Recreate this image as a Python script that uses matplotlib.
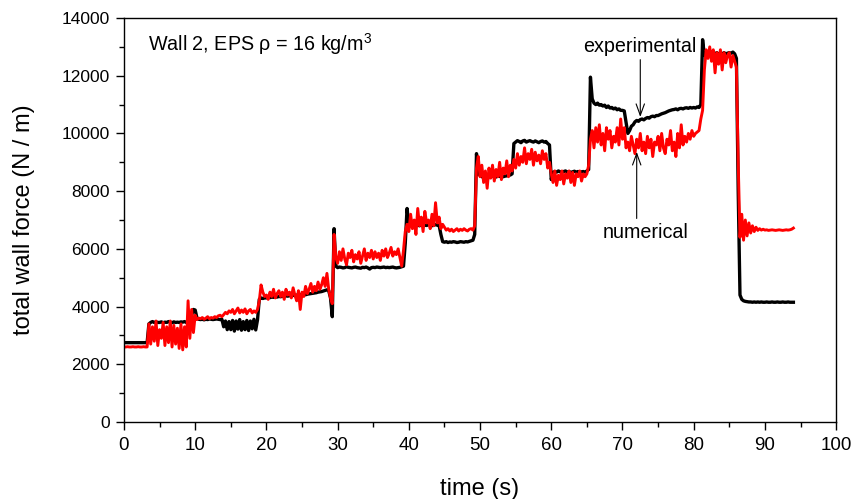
import numpy as np
import matplotlib
matplotlib.use("Agg")
import matplotlib.pyplot as plt
from matplotlib.ticker import MultipleLocator

plt.rcParams['font.family'] = ['Liberation Sans', 'DejaVu Sans']
plt.rcParams['mathtext.fontset'] = 'custom'
plt.rcParams['mathtext.rm'] = 'Liberation Sans'
plt.rcParams['mathtext.it'] = 'Liberation Sans:italic'
plt.rcParams['mathtext.bf'] = 'Liberation Sans:bold'

# sampling grid of the recorded signals (s)
time = np.arange(0, 94.01, 0.25)

# experimental wall force (N/m), one row per 5 s
experimental = [
    2750, 2750, 2750, 2750, 2750, 2750, 2750, 2750, 2750, 2750, 2750, 2750, 2750, 2750, 3400, 3450, 3480, 3450, 3470, 3450,
    3450, 3470, 3440, 3460, 3450, 3480, 3460, 3440, 3470, 3450, 3460, 3450, 3470, 3460, 3480, 3450, 3500, 3520, 3700, 3900,
    3880, 3600, 3560, 3550, 3560, 3540, 3560, 3550, 3570, 3560, 3550, 3560, 3570, 3560, 3550, 3560, 3300, 3500, 3200, 3480,
    3200, 3520, 3150, 3500, 3220, 3550, 3180, 3480, 3200, 3520, 3170, 3500, 3230, 3560, 3190, 3540, 4250, 4300, 4280, 4300,
    4300, 4320, 4310, 4330, 4320, 4340, 4330, 4350, 4340, 4360, 4350, 4370, 4360, 4380, 4370, 4390, 4380, 4400, 4390, 4410,
    4400, 4420, 4410, 4430, 4440, 4450, 4460, 4470, 4480, 4500, 4510, 4520, 4540, 4560, 4580, 4550, 4300, 3650, 6700, 5400,
    5350, 5370, 5360, 5340, 5350, 5380, 5360, 5350, 5340, 5360, 5370, 5350, 5340, 5330, 5360, 5350, 5370, 5340, 5300, 5350,
    5360, 5350, 5370, 5360, 5350, 5360, 5370, 5350, 5360, 5350, 5360, 5370, 5350, 5340, 5350, 5360, 5380, 5400, 6200, 7400,
    6850, 6800, 6830, 6810, 6840, 6820, 6800, 6830, 6850, 6820, 6810, 6840, 6830, 6800, 6820, 6840, 6820, 6810, 6500, 6250,
    6230, 6250, 6220, 6240, 6230, 6250, 6240, 6220, 6230, 6250, 6240, 6230, 6250, 6240, 6260, 6280, 6300, 6500, 9300, 8600,
    8550, 8500, 8480, 8520, 8500, 8470, 8510, 8530, 8500, 8490, 8520, 8510, 8540, 8500, 8520, 8530, 8550, 8560, 8600, 9650,
    9700, 9750, 9720, 9680, 9740, 9760, 9700, 9730, 9750, 9720, 9700, 9740, 9710, 9680, 9720, 9740, 9700, 9720, 9650, 9600,
    8400, 8650, 8680, 8660, 8700, 8670, 8650, 8680, 8700, 8660, 8680, 8650, 8670, 8690, 8660, 8680, 8650, 8670, 8680, 8660,
    8700, 8750, 11950, 11200, 11050, 11000, 11050, 10980, 11000, 10950, 10980, 10900, 10950, 10880, 10900, 10850, 10880, 10820, 10850, 10800,
    10800, 10780, 10400, 10000, 10100, 10250, 10300, 10400, 10450, 10420, 10480, 10500, 10470, 10520, 10550, 10530, 10580, 10600, 10580, 10620,
    10620, 10650, 10680, 10700, 10720, 10750, 10780, 10800, 10820, 10830, 10850, 10820, 10860, 10870, 10850, 10880, 10890, 10870, 10900, 10880,
    10900, 10880, 10920, 10900, 11000, 13250, 12700, 12750, 12720, 12780, 12750, 12700, 12760, 12800, 12740, 12780, 12750, 12800, 12760, 12780,
    12800, 12780, 12820, 12760, 12600, 8000, 4400, 4250, 4200, 4180, 4170, 4160, 4160, 4150, 4160, 4150, 4160, 4150, 4160, 4150,
    4150, 4160, 4150, 4150, 4160, 4150, 4150, 4160, 4150, 4150, 4160, 4150, 4150, 4160, 4150, 4150, 4150,
]

# numerical wall force (N/m), one row per 5 s
numerical = [
    2600, 2600, 2610, 2600, 2600, 2610, 2600, 2600, 2610, 2600, 2600, 2610, 2600, 2600, 3400, 2700, 3300, 2800, 3500, 2650,
    3200, 2900, 3450, 2650, 3300, 2750, 3500, 2600, 3350, 2700, 3250, 2550, 3400, 2500, 3300, 2600, 4200, 2900, 3900, 3100,
    3700, 3550, 3600, 3580, 3620, 3560, 3600, 3650, 3580, 3620, 3600, 3650, 3620, 3680, 3700, 3650, 3720, 3800, 3750, 3850,
    3800, 3900, 3750, 3850, 3950, 3780, 3880, 3800, 3920, 3750, 3850, 3900, 3780, 3850, 3800, 3900, 4200, 4750, 4500, 4350,
    4400, 4250, 4500, 4350, 4600, 4300, 4450, 4550, 4350, 4500, 4250, 4600, 4400, 4500, 4300, 4650, 4400, 4200, 4550, 3900,
    4500, 4350, 4700, 4450, 4600, 4800, 4500, 4700, 4550, 4850, 4600, 4750, 5000, 4700, 5150, 4600, 4300, 4100, 6500, 5700,
    5500, 5900, 5600, 6000, 5650, 5450, 5850, 5700, 5950, 5550, 5800, 5650, 5900, 5500, 5750, 6000, 5600, 5850, 5700, 5950,
    5650, 5900, 5700, 5850, 5600, 5950, 5750, 6000, 5700, 5850, 6050, 5750, 5900, 5800, 6000, 5700, 5400, 5950, 6600, 6850,
    6600, 7200, 6700, 7000, 6500, 7400, 6800, 7100, 6600, 7300, 6900, 7000, 6700, 7200, 6800, 7600, 6900, 7100, 6700, 6850,
    6750, 6650, 6700, 6620, 6680, 6600, 6650, 6700, 6620, 6680, 6640, 6700, 6650, 6620, 6680, 6700, 6650, 6800, 8800, 9200,
    8500, 8900, 8300, 8700, 8100, 8800, 8450, 8900, 8350, 8750, 8500, 9000, 8400, 8800, 8600, 9050, 8500, 8900, 8700, 9100,
    8800, 9300, 8900, 9200, 9000, 9500, 8950, 9300, 9100, 9450, 8900, 9350, 9050, 9250, 8950, 9400, 9100, 9300, 8800, 9000,
    8600, 8300, 8700, 8200, 8550, 8400, 8700, 8250, 8600, 8450, 8700, 8300, 8650, 8200, 8600, 8500, 8700, 8350, 8600, 8500,
    8600, 8900, 9800, 10100, 9500, 10200, 9700, 10300, 9600, 10000, 9400, 10200, 9800, 10100, 9500, 9900, 9700, 10200, 9600, 10500,
    9800, 10200, 9500, 9700, 9400, 9900, 9600, 9300, 9800, 9500, 10000, 9400, 9700, 9300, 9900, 9500, 9800, 9200, 9700, 9600,
    9900, 9400, 10000, 9500, 9300, 9800, 9600, 10100, 9400, 9700, 9200, 10000, 9500, 10300, 9600, 9900, 9700, 10000, 9800, 10100,
    9900, 10000, 10050, 10100, 10500, 10800, 12200, 12900, 12600, 13000, 12500, 12900, 12100, 12800, 12400, 12900, 12200, 12800, 12450, 12700,
    12800, 12300, 12700, 12500, 12300, 9000, 6400, 7200, 6300, 7000, 6450, 6900, 6550, 6800, 6600, 6750, 6640, 6700, 6650, 6680,
    6650, 6660, 6640, 6650, 6660, 6650, 6640, 6650, 6660, 6650, 6640, 6650, 6660, 6650, 6660, 6680, 6720,
]

x_ticks = [0, 10, 20, 30, 40, 50, 60, 70, 80, 90, 100]
y_ticks = [0, 2000, 4000, 6000, 8000, 10000, 12000, 14000]

fig = plt.figure(figsize=(8.58, 4.99), dpi=100)
ax = fig.add_axes([0.1445, 0.1543, 0.8300, 0.8096])

ax.plot(time, experimental, color='black', lw=2.4, solid_joinstyle='round')
ax.plot(time, numerical, color='#ff0000', lw=2.1, solid_joinstyle='round')

ax.set_xlim(0, 100)
ax.set_ylim(0, 14000)
ax.set_xticks(x_ticks)
ax.set_yticks(y_ticks)
ax.xaxis.set_minor_locator(MultipleLocator(5))
ax.yaxis.set_minor_locator(MultipleLocator(1000))
ax.tick_params(which='major', direction='out', length=6, width=1)
ax.tick_params(axis='x', which='major', labelsize=13.5, pad=5)
ax.tick_params(axis='y', which='major', labelsize=12.5, pad=4)
ax.tick_params(which='minor', direction='out', length=3.5, width=1)
for s in ax.spines.values():
    s.set_linewidth(1.0)

ax.set_xlabel('time (s)', fontsize=17, labelpad=17)
ax.set_ylabel('total wall force (N / m)', fontsize=17, labelpad=19)

ax.text(3.4, 13100, 'Wall 2, EPS ρ = 16 kg/m$^3$', fontsize=14.2, va='center', ha='left')

arrow_style = '->,head_length=0.55,head_width=0.2'
ax.annotate('experimental', xy=(72.5, 10570), xytext=(72.5, 13030),
            ha='center', va='center', fontsize=14.2,
            arrowprops=dict(arrowstyle=arrow_style, lw=0.8, color='black',
                            shrinkA=1, shrinkB=0, mutation_scale=15,
                            relpos=(0.5, 0.0)))
ax.annotate('numerical', xy=(72.0, 9360), xytext=(73.2, 6580),
            ha='center', va='center', fontsize=14.2,
            arrowprops=dict(arrowstyle=arrow_style, lw=0.8, color='black',
                            shrinkA=1, shrinkB=0, mutation_scale=15,
                            relpos=(0.4, 1.0)))

fig.savefig('out.png', dpi=100)
